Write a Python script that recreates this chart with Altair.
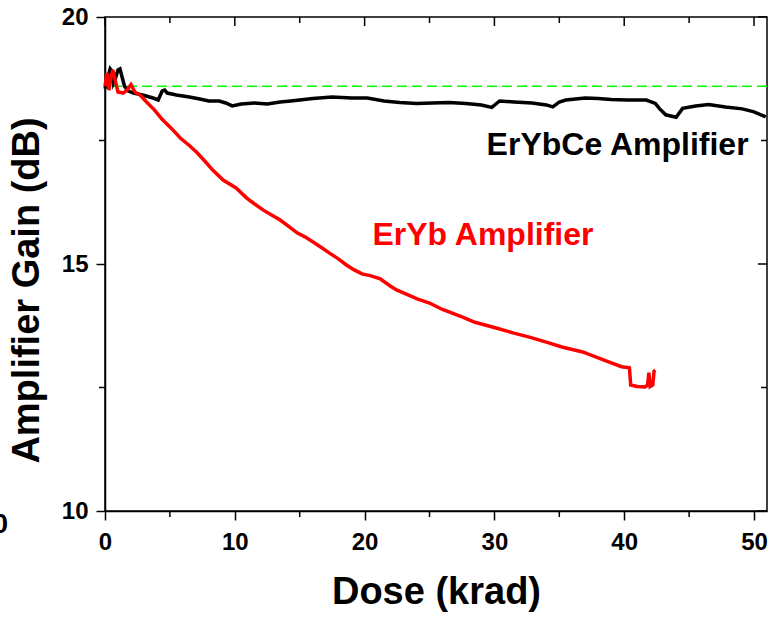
import altair as alt
import pandas as pd

# ---------------- data ----------------
erybce_dose = [0.0, 0.2, 0.4, 0.55, 0.65, 0.8, 1.0, 1.15, 1.3, 1.5, 1.8, 2.2, 2.9, 3.7, 4.1, 4.4,
               4.6, 4.8, 5.5, 6.5, 7.3, 8.0, 8.8, 9.3, 9.8, 10.5, 11.5, 12.5, 13.5, 14.3, 15.0,
               16.0, 17.5, 19.0, 20.2, 21.5, 22.7, 24.0, 25.2, 26.5, 27.8, 29.0, 29.8, 30.4,
               31.5, 32.9, 34.0, 34.5, 35.0, 35.5, 37.0, 38.0, 39.0, 40.2, 41.7, 42.4, 42.7,
               43.2, 44.0, 44.5, 45.5, 46.5, 47.8, 49.1, 50.0, 50.9]
erybce_gain = [18.55, 18.75, 18.95, 18.9, 18.66, 18.75, 18.93, 18.95, 18.8, 18.6, 18.5, 18.46,
               18.42, 18.36, 18.32, 18.5, 18.52, 18.46, 18.42, 18.38, 18.34, 18.3, 18.3, 18.26,
               18.2, 18.24, 18.26, 18.24, 18.28, 18.3, 18.32, 18.35, 18.38, 18.36, 18.36, 18.3,
               18.27, 18.25, 18.26, 18.27, 18.25, 18.22, 18.17, 18.3, 18.28, 18.26, 18.22, 18.18,
               18.28, 18.32, 18.36, 18.35, 18.33, 18.32, 18.32, 18.25, 18.15, 18.02, 17.97,
               18.15, 18.2, 18.23, 18.18, 18.14, 18.08, 17.98]

eryb_dose = [0.0, 0.15, 0.3, 0.45, 0.6, 0.8, 1.0, 1.4, 1.7, 2.0, 2.3, 2.7, 3.2, 3.8, 4.4, 5.1,
             5.8, 6.5, 7.1, 7.7, 8.3, 9.1, 10.1, 10.9, 11.5, 12.2, 12.9, 13.5, 14.2, 14.8, 15.4,
             16.0, 16.7, 17.3, 18.0, 18.6, 19.2, 19.8, 20.5, 21.2, 22.0, 22.5, 23.3, 24.0, 25.0,
             26.0, 27.5, 28.5, 30.2, 31.5, 32.7, 34.0, 35.2, 36.0, 36.8, 37.8, 38.8, 39.8, 40.4,
             40.5, 41.0, 41.6, 41.8, 41.9, 42.0, 42.2, 42.3, 42.4]
eryb_gain = [18.6, 18.87, 18.52, 18.75, 18.93, 18.7, 18.48, 18.46, 18.52, 18.63, 18.48, 18.42,
             18.28, 18.12, 17.93, 17.75, 17.55, 17.4, 17.25, 17.08, 16.9, 16.7, 16.54, 16.34,
             16.22, 16.09, 15.98, 15.89, 15.75, 15.63, 15.55, 15.45, 15.33, 15.22, 15.1, 14.98,
             14.88, 14.8, 14.76, 14.7, 14.55, 14.47, 14.38, 14.3, 14.21, 14.08, 13.93, 13.82,
             13.7, 13.6, 13.52, 13.42, 13.32, 13.27, 13.22, 13.12, 13.02, 12.92, 12.9, 12.55,
             12.52, 12.51, 12.55, 12.8, 12.52, 12.55, 12.83, 12.85]

reference_gain = 18.6

x_major = [0, 10, 20, 30, 40, 50]
x_minor = [5, 15, 25, 35, 45]
y_major = [10, 15, 20]
y_minor = [12.5, 17.5]

labels = ["ErYbCe Amplifier", "ErYb Amplifier"]
label_dose = [29.4, 20.6]
label_gain = [17.21, 15.38]
label_color = ["#000000", "#ff0000"]

# ---------------- chart ----------------
FONT = "Liberation Sans"
W, H = 662, 494

xs = alt.Scale(domain=[0, 51], nice=False, zero=False)
ys = alt.Scale(domain=[10, 20], nice=False, zero=False)

df_ce = pd.DataFrame({"dose": erybce_dose, "gain": erybce_gain})
df_yb = pd.DataFrame({"dose": eryb_dose, "gain": eryb_gain})

x_enc = alt.X("dose:Q", scale=xs, title="Dose (krad)",
              axis=alt.Axis(values=x_major, tickSize=9, tickWidth=1.5, domainWidth=1.5,
                            domainColor="black", tickColor="black", grid=False,
                            labelFont=FONT, labelFontSize=24, labelFontWeight="bold",
                            labelColor="black", labelPadding=10, labelFlush=False,
                            titleFont=FONT, titleFontSize=38, titleFontWeight="bold",
                            titleColor="black", titleBaseline="alphabetic", titleY=92))
y_enc = alt.Y("gain:Q", scale=ys, title="Amplifier Gain (dB)",
              axis=alt.Axis(values=y_major, tickSize=9, tickWidth=1.5, domainWidth=1.5,
                            domainColor="black", tickColor="black", grid=False,
                            labelFont=FONT, labelFontSize=24, labelFontWeight="bold",
                            labelColor="black", labelPadding=8, labelFlush=False,
                            titleFont=FONT, titleFontSize=38, titleFontWeight="bold",
                            titleColor="black", titleAngle=270, titleBaseline="alphabetic",
                            titleAlign="center", titleX=-67, titleY=273))

ce_line = alt.Chart(df_ce).mark_line(color="#000000", strokeWidth=3.5).encode(
    x=x_enc, y=y_enc, order="dose:Q")
yb_line = alt.Chart(df_yb).mark_line(color="#ff0000", strokeWidth=3.5).encode(
    x=alt.X("dose:Q", scale=xs), y=alt.Y("gain:Q", scale=ys), order="dose:Q")

ref = alt.Chart(pd.DataFrame({"gain": [reference_gain]})).mark_rule(
    color="#00ff00", strokeWidth=1.5, strokeDash=[10, 5]).encode(
    y=alt.Y("gain:Q", scale=ys))

df_lab = pd.DataFrame({"t": labels, "dose": label_dose, "gain": label_gain, "c": label_color})
lab = alt.Chart(df_lab).mark_text(font=FONT, fontSize=32, fontWeight="bold",
                                  align="left", baseline="alphabetic").encode(
    x=alt.X("dose:Q", scale=xs), y=alt.Y("gain:Q", scale=ys),
    text="t:N", color=alt.Color("c:N", scale=None))

# minor ticks on bottom (outward), top ticks (inward), left minor (outward), right (inward)
df_xmin = pd.DataFrame({"dose": x_minor})
df_xmaj = pd.DataFrame({"dose": x_major})
df_ymin = pd.DataFrame({"gain": y_minor})
df_ymaj = pd.DataFrame({"gain": y_major})
tick_style = dict(color="black", strokeWidth=1.5)

bot_minor = alt.Chart(df_xmin).mark_rule(**tick_style).encode(
    x=alt.X("dose:Q", scale=xs), y=alt.value(H), y2=alt.value(H + 6))
top_minor = alt.Chart(df_xmin).mark_rule(**tick_style).encode(
    x=alt.X("dose:Q", scale=xs), y=alt.value(0), y2=alt.value(6))
top_major = alt.Chart(df_xmaj).mark_rule(**tick_style).encode(
    x=alt.X("dose:Q", scale=xs), y=alt.value(0), y2=alt.value(9))
left_minor = alt.Chart(df_ymin).mark_rule(**tick_style).encode(
    y=alt.Y("gain:Q", scale=ys), x=alt.value(0), x2=alt.value(-6))
right_minor = alt.Chart(df_ymin).mark_rule(**tick_style).encode(
    y=alt.Y("gain:Q", scale=ys), x=alt.value(W), x2=alt.value(W - 6))
right_major = alt.Chart(df_ymaj).mark_rule(**tick_style).encode(
    y=alt.Y("gain:Q", scale=ys), x=alt.value(W), x2=alt.value(W - 9))

stray = alt.Chart(pd.DataFrame({"t": ["0"]})).mark_text(
    font=FONT, fontSize=28, fontWeight="bold", align="right", baseline="alphabetic",
    color="black").encode(x=alt.value(-97), y=alt.value(516), text="t:N")

chart = alt.layer(ref, ce_line, yb_line, lab, bot_minor, top_minor, top_major,
                  left_minor, right_minor, right_major, stray).properties(
    width=W, height=H,
    autosize=alt.AutoSizeParams(type="none"),
    padding={"left": 105, "top": 17, "right": 9, "bottom": 110},
    background="white",
).configure_view(stroke="black", strokeWidth=1.5)

chart.save("out.html", embed_options={"renderer": "svg", "actions": False})
